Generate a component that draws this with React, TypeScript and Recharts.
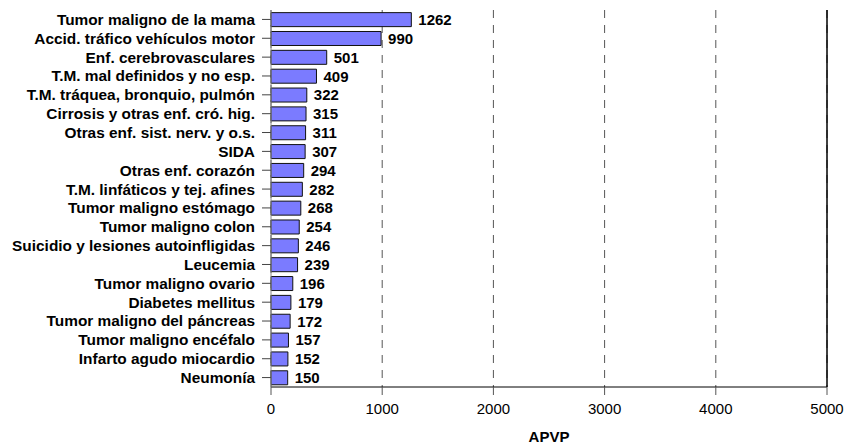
import { BarChart, Bar, XAxis, YAxis, CartesianGrid, ReferenceLine, LabelList } from 'recharts'

const causes = [
  'Tumor maligno de la mama',
  'Accid. tráfico vehículos motor ',
  'Enf. cerebrovasculares',
  'T.M. mal definidos y no esp.',
  'T.M. tráquea, bronquio,  pulmón',
  'Cirrosis y otras enf. cró. hig.',
  'Otras enf. sist. nerv. y o.s.',
  'SIDA',
  'Otras enf. corazón',
  'T.M. linfáticos y tej. afines',
  'Tumor maligno estómago',
  'Tumor maligno colon',
  'Suicidio y lesiones autoinfligidas',
  'Leucemia',
  'Tumor maligno ovario',
  'Diabetes mellitus',
  'Tumor maligno del páncreas',
  'Tumor maligno encéfalo',
  'Infarto agudo miocardio',
  'Neumonía',
]
const apvp = [1262, 990, 501, 409, 322, 315, 311, 307, 294, 282, 268, 254, 246, 239, 196, 179, 172, 157, 152, 150]
const xTicks = [0, 1000, 2000, 3000, 4000, 5000]

const data = causes.map((c, i) => ({ cause: c, value: apvp[i] }))

const FONT = 'Arial, "Liberation Sans", sans-serif'

export default function App() {
  return (
    <div style={{ position: 'absolute', left: 0, top: 0, background: '#fff' }}>
      <BarChart
        width={846}
        height={446}
        data={data}
        layout="vertical"
        barCategoryGap="14%"
        margin={{ top: 10, right: 19, bottom: 0, left: 0 }}
        style={{ fontFamily: FONT }}
      >
        <CartesianGrid horizontal={false} stroke="#555" strokeDasharray="8 7" />
        <XAxis
          type="number"
          dataKey="value"
          domain={[0, 5000]}
          ticks={xTicks}
          height={59}
          axisLine={{ stroke: '#000' }}
          tickLine={{ stroke: '#555' }}
          tickSize={8}
          tickMargin={8}
          tick={{ fill: '#000', fontSize: 15, fontFamily: FONT }}
          label={{ value: 'APVP', position: 'insideBottom', offset: 4, fill: '#000', fontSize: 15, fontWeight: 'bold', fontFamily: FONT }}
        />
        <XAxis xAxisId="top" type="number" domain={[0, 5000]} orientation="top" height={0} tick={false} tickLine={false} axisLine={{ stroke: '#888' }} />
        <YAxis
          type="category"
          dataKey="cause"
          width={271}
          axisLine={{ stroke: '#888' }}
          tickLine={{ stroke: '#444' }}
          tickSize={9}
          tickMargin={7}
          interval={0}
          tick={{ fill: '#000', fontSize: 15.4, fontWeight: 'bold', fontFamily: FONT }}
        />
        <ReferenceLine x={5000} stroke="#000" strokeWidth={1.5} />
        <Bar dataKey="value" fill="#7b7bff" stroke="#111" strokeWidth={1} isAnimationActive={false}>
          <LabelList dataKey="value" position="right" offset={7} fill="#000" fontSize={15} fontWeight="bold" fontFamily={FONT} />
        </Bar>
      </BarChart>
    </div>
  )
}
